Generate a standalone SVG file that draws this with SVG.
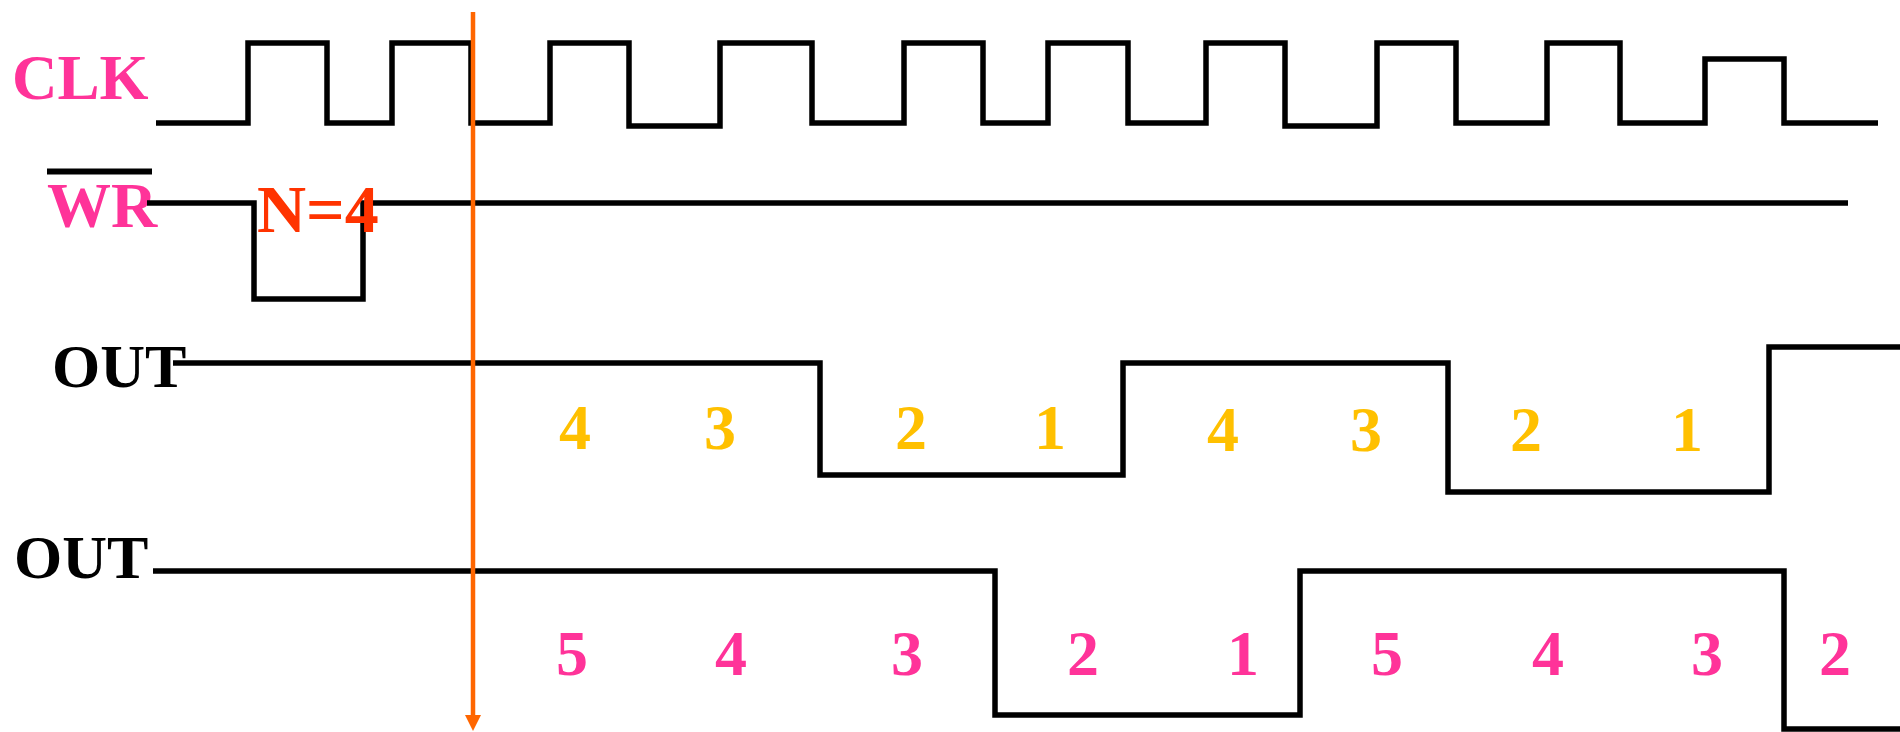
<svg xmlns="http://www.w3.org/2000/svg" width="1900" height="732" viewBox="0 0 1900 732">
<style>
.sig{fill:none;stroke:#000;stroke-width:5.5;stroke-linejoin:miter}
.lbl{font-family:"Liberation Serif","Times New Roman",serif;font-weight:bold}
.pink{fill:#FF3399}
.blk{fill:#000}
.yel{fill:#FFC000;font-size:64px;text-anchor:middle}
.pdig{fill:#FF3399;font-size:64px;text-anchor:middle}
</style>
<defs>
<marker id="arr" viewBox="0 0 16 16" refX="1" refY="8" markerWidth="16" markerHeight="16" markerUnits="userSpaceOnUse" orient="auto">
<path d="M0,0 L16,8 L0,16 Z" fill="#FF6600"/>
</marker>
</defs>
<rect width="1900" height="732" fill="#fff"/>
<g id="clk">
<text class="lbl pink" x="12" y="99" font-size="63">CLK</text>
<polyline class="sig" points="156,123 248,123 248,43 327,43 327,123 392,123 392,43 471,43 471,123 550,123 550,43 629,43 629,126 720,126 720,43 812,43 812,123 904,123 904,43 983,43 983,123 1048,123 1048,43 1128,43 1128,123 1206,123 1206,43 1285,43 1285,126 1377,126 1377,43 1456,43 1456,123 1547,123 1547,43 1620,43 1620,123 1705,123 1705,59 1784,59 1784,123 1878,123"/>
</g>
<g id="wr">
<line x1="47" y1="171.5" x2="152" y2="171.5" stroke="#000" stroke-width="6"/>
<text class="lbl pink" x="47" y="227" font-size="64">WR</text>
<polyline class="sig" points="147,203 254,203 254,299 363,299 363,203 1848,203"/>
<text class="lbl" x="257" y="232" font-size="68" fill="#FF3300">N=4</text>
</g>
<g id="out1">
<text class="lbl blk" x="52" y="387" font-size="62">OUT</text>
<polyline class="sig" points="173,363 820,363 820,475 1123,475 1123,363 1448,363 1448,492 1769,492 1769,347 1900,347"/>
<g class="lbl yel">
<text x="575" y="449">4</text>
<text x="720" y="449">3</text>
<text x="911" y="449">2</text>
<text x="1050" y="449">1</text>
<text x="1223" y="451">4</text>
<text x="1366" y="451">3</text>
<text x="1526" y="451">2</text>
<text x="1687" y="451">1</text>
</g>
</g>
<g id="out2">
<text class="lbl blk" x="14" y="578" font-size="62">OUT</text>
<polyline class="sig" points="153,571 995,571 995,715 1300,715 1300,571 1784,571 1784,729 1900,729"/>
<g class="lbl pdig">
<text x="572" y="675">5</text>
<text x="731" y="675">4</text>
<text x="907" y="675">3</text>
<text x="1083" y="675">2</text>
<text x="1243" y="675">1</text>
<text x="1387" y="675">5</text>
<text x="1548" y="675">4</text>
<text x="1707" y="675">3</text>
<text x="1835" y="675">2</text>
</g>
</g>
<g id="connectors">
<line x1="473" y1="12" x2="473" y2="716" stroke="#FF6600" stroke-width="4.5" marker-end="url(#arr)"/>
</g>
</svg>
